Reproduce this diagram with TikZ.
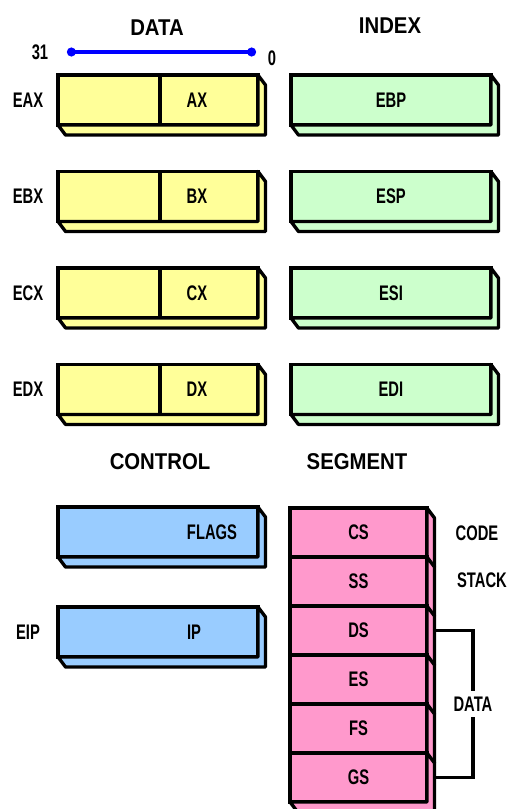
\documentclass[tikz,border=0pt]{standalone}
\usepackage{fontspec}
\setmainfont{Liberation Sans}
\newfontfamily\regfont[FakeStretch=0.70]{Liberation Sans}
\newfontfamily\headfont[FakeStretch=0.89]{Liberation Sans}
\usetikzlibrary{positioning,arrows.meta}
\definecolor{regyellow}{RGB}{255,255,153}
\definecolor{reggreen}{RGB}{204,255,204}
\definecolor{regblue}{RGB}{153,204,255}
\definecolor{regpink}{RGB}{255,153,204}
\tikzstyle{reg}=[draw, line width=1.9pt, minimum width=4cm, minimum height=1cm, outer sep=0pt, inner sep=0pt, font=\regfont\bfseries\fontsize{12}{14}\selectfont]
\tikzstyle{seg}=[reg, fill=regpink, minimum width=2.74cm, minimum height=0.98cm]
\tikzstyle{lab}=[font=\regfont\bfseries\fontsize{12}{14}\selectfont]
\tikzstyle{head}=[font=\headfont\bfseries\fontsize{13}{15}\selectfont]
% the slanted bottom and right faces of a register
\newcommand{\regsolid}[2]{\draw[line width=1.9pt, line join=round, fill=#2] (#1.south west) -- ++(0.15cm,-0.2cm) -| ([shift={(0.15cm,-0.2cm)}]#1.north east) -- (#1.north east) -- (#1.south east) -- cycle;}

\begin{document}
\begin{tikzpicture}[x=0.02cm,y=-0.02cm,node distance=2cm,>=latex]
\useasboundingbox (0,0) rectangle (511,809);

% titles
\node[head] at (157,28) (tdata) {DATA};
\node[head] at (390,26) (tindex) {INDEX};
\node[head] at (160,462) (tcontrol) {CONTROL};
\node[head] at (357,462) (tsegment) {SEGMENT};

% bit numbering
\node[lab] at (40,52) (msbnum) {31};
\node[lab] at (272,58) (lsbnum) {0};
\coordinate (msb) at (67,52);
\coordinate (lsb) at (256,52);
\draw[blue, line width=2.4pt, {Circle[length=5pt]}-{Circle[length=5pt]}] (msb) -- (lsb);

% data registers
\node[reg, fill=regyellow] at (158,100) (eax) {};
\regsolid{eax}{regyellow}
\draw[line width=1.9pt] ([xshift=2.04cm]eax.north west) -- ([xshift=2.04cm]eax.south west);
\node[lab] at ([xshift=0.78cm]eax.center) (ax) {AX};
\node[lab, left of = eax, node distance = 2.6cm] (eaxl) {EAX};

\node[reg, fill=regyellow, below of = eax, node distance = 1.93cm] (ebx) {};
\regsolid{ebx}{regyellow}
\draw[line width=1.9pt] ([xshift=2.04cm]ebx.north west) -- ([xshift=2.04cm]ebx.south west);
\node[lab] at ([xshift=0.78cm]ebx.center) (bx) {BX};
\node[lab, left of = ebx, node distance = 2.6cm] (ebxl) {EBX};

\node[reg, fill=regyellow, below of = ebx, node distance = 1.93cm] (ecx) {};
\regsolid{ecx}{regyellow}
\draw[line width=1.9pt] ([xshift=2.04cm]ecx.north west) -- ([xshift=2.04cm]ecx.south west);
\node[lab] at ([xshift=0.78cm]ecx.center) (cx) {CX};
\node[lab, left of = ecx, node distance = 2.6cm] (ecxl) {ECX};

\node[reg, fill=regyellow, below of = ecx, node distance = 1.93cm] (edx) {};
\regsolid{edx}{regyellow}
\draw[line width=1.9pt] ([xshift=2.04cm]edx.north west) -- ([xshift=2.04cm]edx.south west);
\node[lab] at ([xshift=0.78cm]edx.center) (dx) {DX};
\node[lab, left of = edx, node distance = 2.6cm] (edxl) {EDX};

% index registers
\node[reg, fill=reggreen, right of = eax, node distance = 4.66cm] (ebp) {EBP};
\regsolid{ebp}{reggreen}
\node[reg, fill=reggreen, right of = ebx, node distance = 4.66cm] (esp) {ESP};
\regsolid{esp}{reggreen}
\node[reg, fill=reggreen, right of = ecx, node distance = 4.66cm] (esi) {ESI};
\regsolid{esi}{reggreen}
\node[reg, fill=reggreen, right of = edx, node distance = 4.66cm] (edi) {EDI};
\regsolid{edi}{reggreen}

% control registers
\node[reg, fill=regblue] at (158,532) (flags) {};
\regsolid{flags}{regblue}
\node[lab] at ([xshift=1.08cm]flags.center) (flagsl) {FLAGS};
\node[reg, fill=regblue, below of = flags, node distance = 2cm] (eip) {};
\regsolid{eip}{regblue}
\node[lab] at ([xshift=0.72cm]eip.center) (ip) {IP};
\node[lab, left of = eip, node distance = 2.6cm] (eipl) {EIP};

% segment registers
\node[seg] at (358.5,532.5) (cs) {CS};
\regsolid{cs}{regpink}
\node[seg, below of = cs, node distance = 0.98cm] (ss) {SS};
\regsolid{ss}{regpink}
\node[seg, below of = ss, node distance = 0.98cm] (ds) {DS};
\regsolid{ds}{regpink}
\node[seg, below of = ds, node distance = 0.98cm] (es) {ES};
\regsolid{es}{regpink}
\node[seg, below of = es, node distance = 0.98cm] (fs) {FS};
\regsolid{fs}{regpink}
\node[seg, below of = fs, node distance = 0.98cm] (gs) {GS};
\regsolid{gs}{regpink}

\node[lab] at (477,533) (code) {CODE};
\node[lab] at (482,580) (stack) {STACK};
\draw[line width=1.9pt] ([xshift=0.12cm]ds.east) -- ++(0.8cm,0) |- node[lab, pos=0.25, fill=white] (dataseg) {DATA} ([xshift=0.12cm]gs.east);
\end{tikzpicture}
\end{document}
